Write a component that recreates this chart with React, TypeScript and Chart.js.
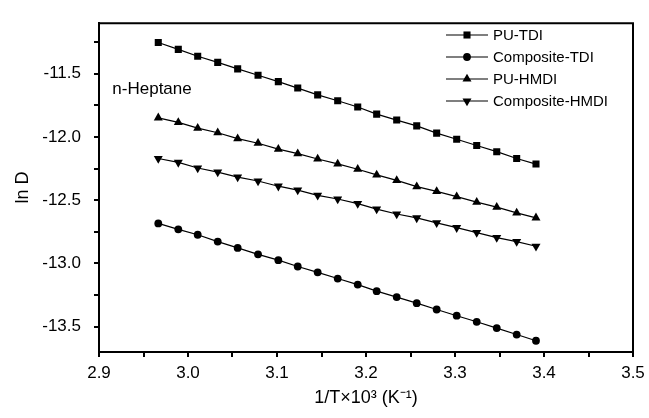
import React, { useEffect, useRef } from "react";
import { Chart, registerables } from "chart.js";

Chart.register(...registerables);

const xValues = [2.9666, 2.9891, 3.0109, 3.0334, 3.0558, 3.0787, 3.1015, 3.1233, 3.1457, 3.1682, 3.1907, 3.212, 3.2345, 3.257, 3.2794, 3.3019, 3.3244, 3.3469, 3.3693, 3.391];

const puTdi = [-11.253, -11.307, -11.361, -11.41, -11.461, -11.512, -11.562, -11.613, -11.667, -11.713, -11.763, -11.819, -11.866, -11.912, -11.969, -12.018, -12.067, -12.116, -12.17, -12.214];
const compositeTdi = [-12.683, -12.73, -12.773, -12.827, -12.877, -12.928, -12.974, -13.024, -13.07, -13.119, -13.167, -13.219, -13.266, -13.314, -13.364, -13.413, -13.461, -13.511, -13.562, -13.611];
const puHmdi = [-11.848, -11.884, -11.93, -11.966, -12.013, -12.049, -12.096, -12.131, -12.174, -12.213, -12.255, -12.299, -12.343, -12.392, -12.43, -12.471, -12.515, -12.554, -12.6, -12.639];
const compositeHmdi = [-12.17, -12.201, -12.245, -12.278, -12.317, -12.348, -12.389, -12.42, -12.461, -12.49, -12.527, -12.57, -12.609, -12.64, -12.679, -12.717, -12.756, -12.795, -12.827, -12.864];

const seriesNames = ["PU-TDI", "Composite-TDI", "PU-HMDI", "Composite-HMDI"];

const xTicks = [2.9, 2.95, 3.0, 3.05, 3.1, 3.15, 3.2, 3.25, 3.3, 3.35, 3.4, 3.45, 3.5];
const xTickLabels = ["2.9", "", "3.0", "", "3.1", "", "3.2", "", "3.3", "", "3.4", "", "3.5"];
const yTicks = [-13.5, -13.25, -13.0, -12.75, -12.5, -12.25, -12.0, -11.75, -11.5, -11.25];
const yTickLabels = ["-13.5", "", "-13.0", "", "-12.5", "", "-12.0", "", "-11.5", ""];

const xTitle = "1/T×10³ (K⁻¹)";
const yTitle = "ln D";
const annotationText = "n-Heptane";

const FONT = "'Liberation Sans', Arial, Helvetica, sans-serif";

type Marker = { style: string; radius: number; rotation: number };
const markers: Marker[] = [
  { style: "rect", radius: 5, rotation: 0 },
  { style: "circle", radius: 3.9, rotation: 0 },
  { style: "triangle", radius: 5.2, rotation: 0 },
  { style: "triangle", radius: 5.2, rotation: 180 },
];

function drawMarker(ctx: CanvasRenderingContext2D, m: Marker, x: number, y: number) {
  ctx.save();
  ctx.fillStyle = "#000";
  ctx.beginPath();
  if (m.style === "rect") {
    const s = Math.SQRT1_2 * m.radius;
    ctx.rect(x - s, y - s, 2 * s, 2 * s);
  } else if (m.style === "circle") {
    ctx.arc(x, y, m.radius, 0, Math.PI * 2);
  } else {
    const r = m.radius;
    const rot = (m.rotation * Math.PI) / 180;
    for (let i = 0; i < 3; i++) {
      const a = rot - Math.PI / 2 + (i * 2 * Math.PI) / 3;
      const px = x + Math.cos(a) * r;
      const py = y + Math.sin(a) * r;
      if (i === 0) ctx.moveTo(px, py);
      else ctx.lineTo(px, py);
    }
    ctx.closePath();
  }
  ctx.fill();
  ctx.restore();
}

const framePlugin = {
  id: "frame",
  afterDraw(chart: any) {
    const { ctx, chartArea } = chart;
    ctx.save();
    ctx.strokeStyle = "#000";
    ctx.lineWidth = 2;
    ctx.beginPath();
    ctx.moveTo(chartArea.left, chartArea.top);
    ctx.lineTo(chartArea.right, chartArea.top);
    ctx.lineTo(chartArea.right, chartArea.bottom);
    ctx.stroke();
    ctx.restore();
  },
};

const legendPlugin = {
  id: "customLegend",
  afterDraw(chart: any) {
    const { ctx, chartArea, scales } = chart;
    const lineStart = chartArea.right - 187;
    const lineEnd = chartArea.right - 145;
    const textX = chartArea.right - 140;
    const rowY = [35, 57, 79, 101];
    ctx.save();
    ctx.font = `15px ${FONT}`;
    ctx.textBaseline = "middle";
    ctx.textAlign = "left";
    seriesNames.forEach((name, i) => {
      const y = rowY[i];
      ctx.strokeStyle = "#000";
      ctx.lineWidth = 1.2;
      ctx.beginPath();
      ctx.moveTo(lineStart, y);
      ctx.lineTo(lineEnd, y);
      ctx.stroke();
      drawMarker(ctx, markers[i], (lineStart + lineEnd) / 2, y);
      ctx.fillStyle = "#000";
      ctx.fillText(name, textX, y + 1);
    });
    ctx.font = `17px ${FONT}`;
    ctx.fillText(annotationText, scales.x.getPixelForValue(2.915), scales.y.getPixelForValue(-11.62));
    ctx.restore();
  },
};

export default function App() {
  const ref = useRef<HTMLCanvasElement | null>(null);
  useEffect(() => {
    if (!ref.current) return;
    const series = [puTdi, compositeTdi, puHmdi, compositeHmdi];
    const chart = new Chart(ref.current, {
      type: "line",
      data: {
        datasets: series.map((vals, i) => ({
          label: seriesNames[i],
          data: vals.map((v, j) => ({ x: xValues[j], y: v })),
          borderColor: "#000",
          backgroundColor: "#000",
          borderWidth: 1.2,
          pointStyle: markers[i].style as any,
          pointRadius: markers[i].radius,
          pointRotation: markers[i].rotation,
          pointBorderWidth: 0,
          pointBackgroundColor: "#000",
          tension: 0,
          fill: false,
        })),
      },
      options: {
        animation: false,
        responsive: false,
        devicePixelRatio: 1,
        layout: { padding: { top: 15, right: 16, left: 0, bottom: 0 } },
        plugins: { legend: { display: false }, tooltip: { enabled: false } },
        scales: {
          x: {
            type: "linear",
            min: 2.9,
            max: 3.5,
            afterFit: (s: any) => { s.height = 66; s.paddingLeft = 0; s.paddingRight = 0; },
            afterBuildTicks: (s: any) => { s.ticks = xTicks.map((v) => ({ value: v })); },
            ticks: {
              autoSkip: false,
              maxRotation: 0,
              padding: 6,
              color: "#000",
              font: { family: FONT, size: 17 },
              callback: (v: any) => {
                const idx = xTicks.findIndex((t) => Math.abs(t - Number(v)) < 1e-6);
                return idx >= 0 ? xTickLabels[idx] : "";
              },
            },
            grid: { drawOnChartArea: false, drawTicks: true, tickLength: 5, color: "#000", lineWidth: 2 },
            border: { color: "#000", width: 2 },
            title: { display: true, text: xTitle, color: "#000", font: { family: FONT, size: 18 }, padding: { top: 0, bottom: 9 } },
          },
          y: {
            type: "linear",
            min: -13.7,
            max: -11.1,
            afterFit: (s: any) => { s.width = 99; },
            afterBuildTicks: (s: any) => { s.ticks = yTicks.map((v) => ({ value: v })); },
            ticks: {
              autoSkip: false,
              padding: 13,
              color: "#000",
              font: { family: FONT, size: 17 },
              callback: (v: any) => {
                const idx = yTicks.findIndex((t) => Math.abs(t - Number(v)) < 1e-6);
                return idx >= 0 ? yTickLabels[idx] : "";
              },
            },
            grid: { drawOnChartArea: false, drawTicks: true, tickLength: 5, color: "#000", lineWidth: 2 },
            border: { color: "#000", width: 2 },
            title: { display: true, text: yTitle, color: "#000", font: { family: FONT, size: 18 }, padding: { top: 12, bottom: 0 } },
          },
        },
      },
      plugins: [framePlugin, legendPlugin],
    });
    return () => chart.destroy();
  }, []);
  return (
    <div style={{ position: "absolute", left: 0, top: 0, width: 649, height: 418, background: "#fff" }}>
      <canvas ref={ref} width={649} height={418} style={{ width: 649, height: 418, display: "block" }} />
    </div>
  );
}
